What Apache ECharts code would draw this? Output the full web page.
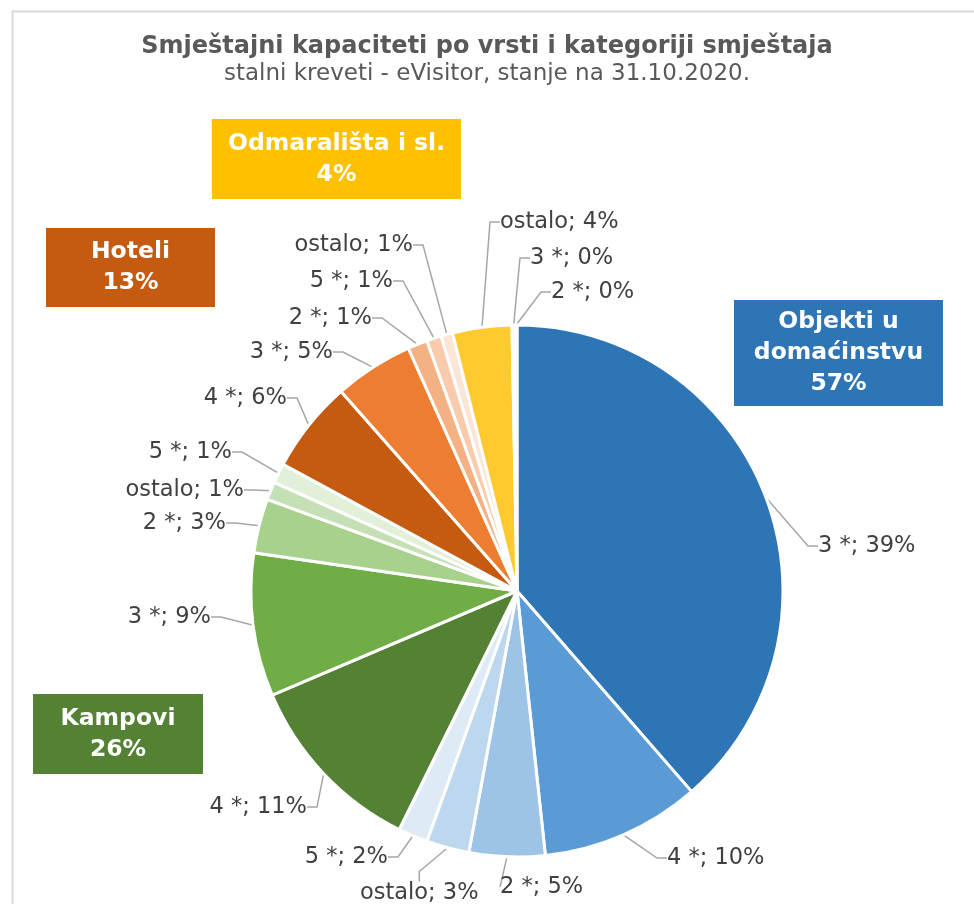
<!DOCTYPE html>
<html>
<head>
<meta charset="utf-8">
<script src="https://cdn.jsdelivr.net/npm/echarts@6/dist/echarts.min.js"></script>
<style>
  html, body { margin: 0; padding: 0; background: #fff; }
  #main { width: 974px; height: 904px; }
</style>
</head>
<body>
<div id="main"></div>
<script>
// shares of permanent beds (%), clockwise from 12 o'clock
const groups = ['Objekti u\ndomaćinstvu', 'Kampovi', 'Hoteli', 'Odmarališta i sl.'];
const objektiCats = ['3 *', '4 *', '2 *', 'ostalo', '5 *'];
const objektiVals = [38.6, 9.7, 4.6, 2.6, 1.8];
const kampoviCats = ['4 *', '3 *', '2 *', 'ostalo', '5 *'];
const kampoviVals = [11.3, 8.7, 3.3, 1.1, 1.2];
const hoteliCats = ['4 *', '3 *', '2 *', '5 *', 'ostalo'];
const hoteliVals = [5.6, 4.8, 1.2, 0.9, 0.7];
const odmarCats = ['ostalo', '3 *', '2 *'];
const odmarVals = [3.6, 0.2, 0.1];

const objektiColors = ['#2E75B6', '#5B9BD5', '#9DC3E6', '#BDD7EE', '#DEEBF7'];
const kampoviColors = ['#548235', '#70AD47', '#A9D18E', '#C5E0B4', '#E2F0D9'];
const hoteliColors = ['#C55A11', '#ED7D31', '#F4B183', '#F8CBAD', '#FBE5D6'];
const odmarColors = ['#FFCA2E', '#FFD966', '#FFE699'];

// label anchor positions [x, y, align] in the same order as the slices
const labelPos = [
  [818, 546, 'left'], [667, 858, 'left'], [500, 887, 'left'], [360, 893, 'left'], [388, 857, 'right'],
  [307, 807, 'right'], [211, 617, 'right'], [226, 523, 'right'], [244, 490, 'right'], [232, 452, 'right'],
  [287, 398, 'right'], [333, 352, 'right'], [372, 318, 'right'], [393, 281, 'right'], [413, 245, 'right'],
  [500, 222, 'left'], [530, 258, 'left'], [551, 292, 'left']
];

const all = [
  [objektiCats, objektiVals, objektiColors],
  [kampoviCats, kampoviVals, kampoviColors],
  [hoteliCats, hoteliVals, hoteliColors],
  [odmarCats, odmarVals, odmarColors]
];
const total = all.reduce((s, g) => s + g[1].reduce((a, b) => a + b, 0), 0);

let data = [];
all.forEach((g, gi) => {
  g[0].forEach((c, i) => {
    data.push({ name: 'g' + gi + ' ' + c, cat: c, value: g[1][i], itemStyle: { color: g[2][i] } });
  });
});

const sumPct = vals => Math.round(vals.reduce((a, b) => a + b, 0) / total * 100);

function box(x, y, w, h, color, name, vals) {
  return {
    type: 'group', left: x, top: y,
    children: [
      { type: 'rect', shape: { x: 0, y: 0, width: w, height: h }, style: { fill: color } },
      {
        type: 'text', x: w / 2, y: h / 2,
        style: {
          text: name + '\n' + sumPct(vals) + '%',
          fill: '#fff', font: 'bold 23.5px "DejaVu Sans"',
          align: 'center', verticalAlign: 'middle', lineHeight: 31
        }
      }
    ]
  };
}

const chart = echarts.init(document.getElementById('main'));
chart.setOption({
  animation: false,
  title: {
    text: 'Smještajni kapaciteti po vrsti i kategoriji smještaja',
    subtext: 'stalni kreveti - eVisitor, stanje na 31.10.2020.',
    left: 'center', top: 30, itemGap: 4,
    textStyle: { fontFamily: 'DejaVu Sans', fontSize: 24, fontWeight: 'bold', color: '#595959' },
    subtextStyle: { fontFamily: 'DejaVu Sans', fontSize: 23, color: '#595959' }
  },
  graphic: [
    { type: 'rect', left: 10, top: 9, shape: { width: 1200, height: 1200 }, style: { fill: 'none', stroke: '#D9D9D9', lineWidth: 2 } },
    box(212, 119, 249, 80, '#FFC000', groups[3], odmarVals),
    box(46, 228, 169, 79, '#C55A11', groups[2], hoteliVals),
    box(734, 300, 209, 106, '#2E75B6', groups[0], objektiVals),
    box(33, 694, 170, 80, '#548235', groups[1], kampoviVals)
  ],
  series: [{
    type: 'pie',
    center: [517, 591],
    radius: 266,
    startAngle: 90,
    clockwise: true,
    avoidLabelOverlap: false,
    itemStyle: { borderColor: '#fff', borderWidth: 3 },
    label: {
      formatter: p => p.data.cat + '; ' + Math.round(p.value / total * 100) + '%',
      fontFamily: 'DejaVu Sans', fontSize: 22.5, color: '#404040'
    },
    labelLine: { show: true, length: 15, length2: 10, lineStyle: { color: '#A6A6A6', width: 1.5 } },
    labelLayout: p => {
      const q = labelPos[p.dataIndex];
      return { x: q[0], y: q[1], align: q[2], verticalAlign: 'middle' };
    },
    emphasis: { disabled: true },
    data: data
  }]
});
</script>
</body>
</html>
